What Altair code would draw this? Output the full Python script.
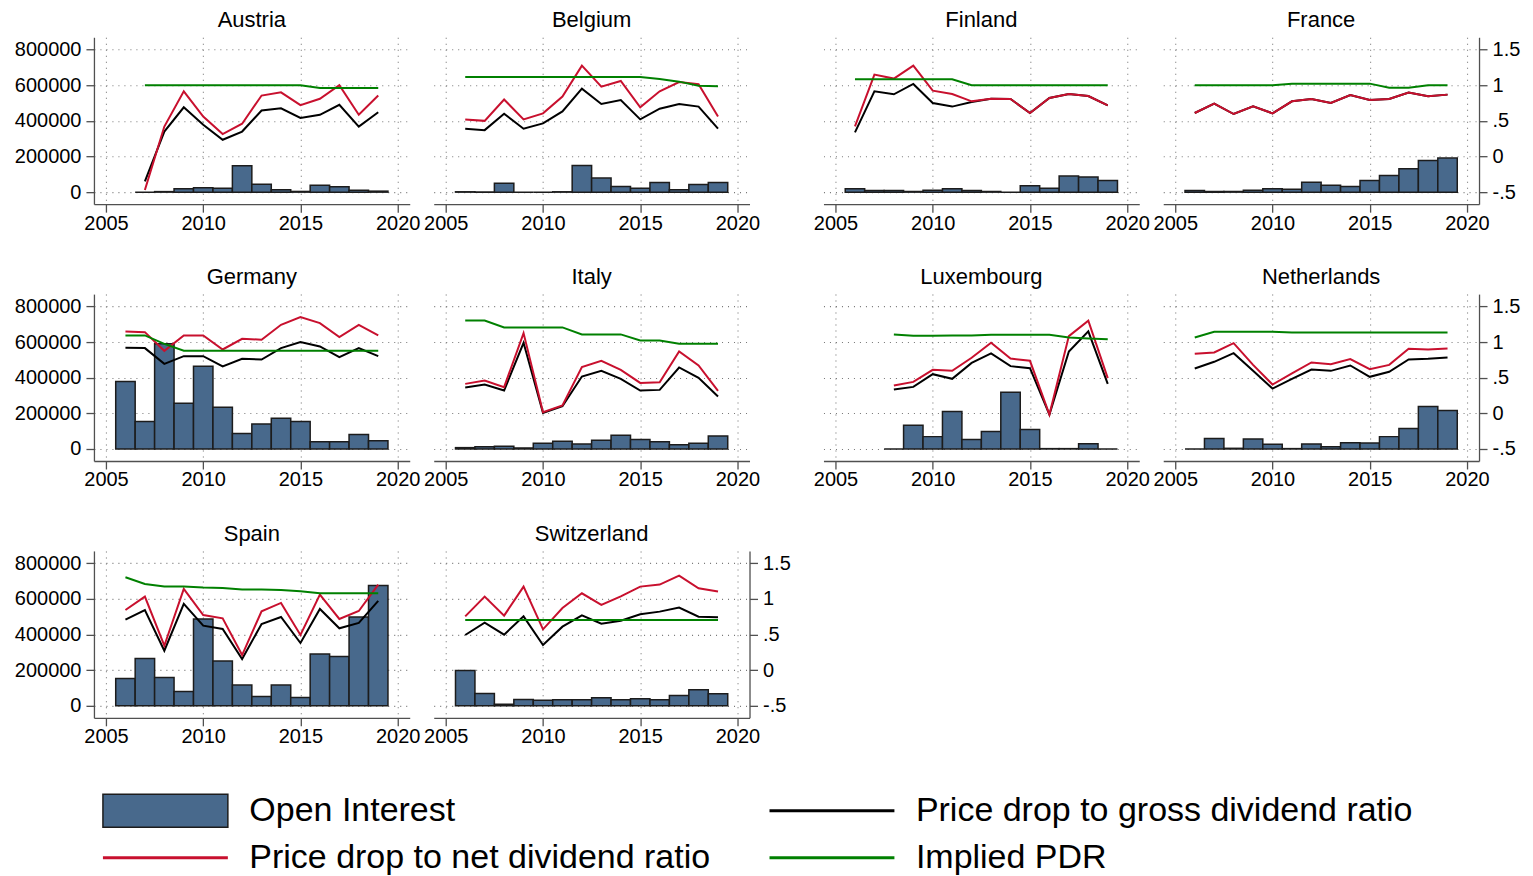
import altair as alt
import pandas as pd

FONT = "Liberation Sans"
BAR_FILL = "#48698c"
BAR_EDGE = "#1c1c1c"
RED = "#c8102e"
BLACK = "#000000"
GREEN = "#008000"
AXIS_C = "#505050"
GRID_C = "#777777"

X_TICKS = [2005, 2010, 2015, 2020]
OI_TICKS = [0, 200000, 400000, 600000, 800000]
PDR_TICKS = [-0.5, 0, 0.5, 1, 1.5]

# ---------------- data ----------------
YEARS_AUSTRIA = [2007, 2008, 2009, 2010, 2011, 2012, 2013, 2014, 2015, 2016, 2017, 2018, 2019]
OI_AUSTRIA = [0, 3000, 18700, 24000, 22000, 148000, 45000, 13000, 4000, 39000, 30000, 11000, 5600]
NET_AUSTRIA = [-0.47, 0.42, 0.915, 0.56, 0.315, 0.46, 0.855, 0.90, 0.72, 0.81, 1.0, 0.585, 0.855]
GROSS_AUSTRIA = [-0.35, 0.35, 0.69, 0.445, 0.235, 0.35, 0.645, 0.675, 0.54, 0.585, 0.725, 0.42, 0.62]
IMPLIED_AUSTRIA = [1.0, 1.0, 1.0, 1.0, 1.0, 1.0, 1.0, 1.0, 1.0, 0.962, 0.962, 0.962, 0.962]

YEARS_BELGIUM = [2006, 2007, 2008, 2009, 2010, 2011, 2012, 2013, 2014, 2015, 2016, 2017, 2018, 2019]
OI_BELGIUM = [2000, 1000, 50600, 0, 0, 2000, 150000, 78700, 31800, 22500, 54300, 13100, 43000, 54300]
NET_BELGIUM = [0.52, 0.50, 0.80, 0.52, 0.605, 0.84, 1.275, 0.98, 1.06, 0.69, 0.915, 1.045, 1.013, 0.56]
GROSS_BELGIUM = [0.39, 0.37, 0.60, 0.39, 0.465, 0.633, 0.952, 0.737, 0.793, 0.521, 0.671, 0.737, 0.70, 0.39]
IMPLIED_BELGIUM = [1.116, 1.116, 1.116, 1.116, 1.116, 1.116, 1.116, 1.116, 1.116, 1.116, 1.088, 1.05, 0.994, 0.985]

YEARS_FINLAND = [2006, 2007, 2008, 2009, 2010, 2011, 2012, 2013, 2014, 2015, 2016, 2017, 2018, 2019]
OI_FINLAND = [18700, 9400, 9400, 3700, 11200, 18700, 9400, 3700, 0, 35600, 22500, 90000, 84300, 65600]
NET_FINLAND = [0.423, 1.149, 1.093, 1.275, 0.924, 0.877, 0.774, 0.811, 0.807, 0.61, 0.821, 0.877, 0.849, 0.718]
GROSS_FINLAND = [0.338, 0.915, 0.872, 1.018, 0.751, 0.70, 0.765, 0.811, 0.807, 0.61, 0.821, 0.877, 0.849, 0.718]
IMPLIED_FINLAND = [1.083, 1.083, 1.083, 1.083, 1.083, 1.083, 1.0, 1.0, 1.0, 1.0, 1.0, 1.0, 1.0, 1.0]

YEARS_FRANCE = [2006, 2007, 2008, 2009, 2010, 2011, 2012, 2013, 2014, 2015, 2016, 2017, 2018, 2019]
OI_FRANCE = [9400, 3700, 3700, 11200, 18700, 16900, 56200, 39300, 31800, 65600, 93700, 131000, 178000, 191000]
NET_FRANCE = [0.61, 0.741, 0.596, 0.704, 0.605, 0.774, 0.807, 0.751, 0.863, 0.793, 0.807, 0.896, 0.844, 0.868]
GROSS_FRANCE = [0.61, 0.741, 0.596, 0.704, 0.605, 0.774, 0.807, 0.751, 0.863, 0.793, 0.807, 0.896, 0.844, 0.868]
IMPLIED_FRANCE = [1.0, 1.0, 1.0, 1.0, 1.0, 1.022, 1.022, 1.022, 1.022, 1.022, 0.966, 0.966, 1.0, 1.0]

YEARS_GERMANY = [2006, 2007, 2008, 2009, 2010, 2011, 2012, 2013, 2014, 2015, 2016, 2017, 2018, 2019]
OI_GERMANY = [378400, 153600, 590000, 256700, 464600, 234200, 86200, 140500, 172400, 153600, 41200, 41200, 80600, 46800]
NET_GERMANY = [1.149, 1.139, 0.877, 1.093, 1.093, 0.896, 1.046, 1.032, 1.242, 1.35, 1.266, 1.069, 1.242, 1.093]
GROSS_GERMANY = [0.919, 0.915, 0.694, 0.802, 0.802, 0.657, 0.765, 0.755, 0.915, 0.999, 0.938, 0.788, 0.915, 0.802]
IMPLIED_GERMANY = [1.093, 1.093, 0.975, 0.877, 0.877, 0.877, 0.877, 0.877, 0.877, 0.877, 0.877, 0.877, 0.877, 0.877]

YEARS_ITALY = [2006, 2007, 2008, 2009, 2010, 2011, 2012, 2013, 2014, 2015, 2016, 2017, 2018, 2019]
OI_ITALY = [7500, 13100, 15000, 5600, 31800, 43100, 28100, 48700, 76800, 52500, 41200, 24400, 31800, 73100]
NET_ITALY = [0.413, 0.46, 0.367, 1.125, 0.015, 0.109, 0.648, 0.737, 0.61, 0.427, 0.437, 0.868, 0.671, 0.315]
GROSS_ITALY = [0.362, 0.404, 0.32, 0.99, 0.006, 0.10, 0.516, 0.596, 0.484, 0.32, 0.329, 0.643, 0.498, 0.235]
IMPLIED_ITALY = [1.303, 1.303, 1.205, 1.205, 1.205, 1.205, 1.107, 1.107, 1.107, 1.022, 1.022, 0.975, 0.975, 0.975]

YEARS_LUXEMBOURG = [2008, 2009, 2010, 2011, 2012, 2013, 2014, 2015, 2016, 2017, 2018, 2019]
OI_LUXEMBOURG = [0, 133000, 69300, 209800, 52500, 97400, 318500, 108700, 1900, 1900, 30000, 0]
NET_LUXEMBOURG = [0.39, 0.441, 0.61, 0.596, 0.779, 0.99, 0.769, 0.737, -0.018, 1.083, 1.299, 0.493]
GROSS_LUXEMBOURG = [0.334, 0.371, 0.549, 0.484, 0.708, 0.84, 0.662, 0.633, -0.018, 0.868, 1.149, 0.413]
IMPLIED_LUXEMBOURG = [1.107, 1.088, 1.088, 1.093, 1.093, 1.102, 1.102, 1.102, 1.102, 1.064, 1.05, 1.04]

YEARS_NETHERLANDS = [2006, 2007, 2008, 2009, 2010, 2011, 2012, 2013, 2014, 2015, 2016, 2017, 2018, 2019]
OI_NETHERLANDS = [0, 58100, 3700, 56200, 26200, 2000, 28100, 13100, 35600, 33700, 69300, 114300, 237900, 215500]
NET_NETHERLANDS = [0.835, 0.854, 0.985, 0.68, 0.404, 0.559, 0.713, 0.69, 0.76, 0.619, 0.68, 0.905, 0.896, 0.91]
GROSS_NETHERLANDS = [0.629, 0.723, 0.844, 0.596, 0.348, 0.484, 0.615, 0.596, 0.671, 0.512, 0.582, 0.755, 0.765, 0.783]
IMPLIED_NETHERLANDS = [1.064, 1.144, 1.144, 1.144, 1.144, 1.135, 1.135, 1.135, 1.135, 1.135, 1.135, 1.135, 1.135, 1.135]

YEARS_SPAIN = [2006, 2007, 2008, 2009, 2010, 2011, 2012, 2013, 2014, 2015, 2016, 2017, 2018, 2019]
OI_SPAIN = [153600, 266000, 159200, 80600, 487100, 251000, 116200, 52500, 116200, 46800, 290400, 277300, 498400, 674500]
NET_SPAIN = [0.844, 1.032, 0.343, 1.139, 0.774, 0.727, 0.212, 0.826, 0.943, 0.493, 1.06, 0.718, 0.83, 1.2]
GROSS_SPAIN = [0.708, 0.844, 0.273, 0.929, 0.624, 0.577, 0.156, 0.648, 0.746, 0.381, 0.858, 0.587, 0.662, 0.971]
IMPLIED_SPAIN = [1.303, 1.21, 1.172, 1.172, 1.158, 1.153, 1.13, 1.13, 1.125, 1.107, 1.078, 1.078, 1.078, 1.078]

YEARS_SWITZERLAND = [2006, 2007, 2008, 2009, 2010, 2011, 2012, 2013, 2014, 2015, 2016, 2017, 2018, 2019]
OI_SWITZERLAND = [198600, 69300, 9400, 35600, 31800, 33700, 33700, 45000, 33700, 39300, 33700, 58100, 89900, 67400]
NET_SWITZERLAND = [0.755, 1.032, 0.765, 1.172, 0.573, 0.872, 1.078, 0.915, 1.036, 1.172, 1.2, 1.327, 1.149, 1.102]
GROSS_SWITZERLAND = [0.493, 0.666, 0.498, 0.755, 0.352, 0.61, 0.77, 0.652, 0.694, 0.783, 0.821, 0.877, 0.75, 0.741]
IMPLIED_SWITZERLAND = [0.705, 0.705, 0.705, 0.705, 0.705, 0.705, 0.705, 0.705, 0.705, 0.705, 0.705, 0.705, 0.705, 0.705]

LEGEND_LABELS = ["Open Interest", "Price drop to gross dividend ratio",
                 "Price drop to net dividend ratio", "Implied PDR"]
LEGEND_KEYS = ["oi", "gross", "net", "implied"]
LEGEND_COL = [0, 1, 0, 1]
LEGEND_ROW = [0, 0, 1, 1]

# ---------------- geometry / style ----------------
PW, PH = 316, 167
X_SCALE = alt.Scale(domain=[2004.38, 2020.62], nice=False, zero=False)
OI_SCALE = alt.Scale(domain=[-67400, 869000], nice=False, zero=False)
PDR_SCALE = alt.Scale(domain=[-0.6685, 1.6725], nice=False, zero=False)

X_AXIS = alt.Axis(values=X_TICKS, format="d", title=None, grid=True, tickSize=8,
                  labelPadding=1, labelFlush=False, labelOverlap=False)


def panel_layers(years, oi, net, gross, implied, left_axis, right_axis):
    df = pd.DataFrame({"year": years, "oi": oi, "net": net,
                       "gross": gross, "implied": implied})
    base = alt.Chart(df)
    if left_axis:
        oi_axis = alt.Axis(values=OI_TICKS, format="d", title=None, grid=True,
                           orient="left", tickSize=8, labelPadding=5)
    else:
        oi_axis = alt.Axis(values=OI_TICKS, title=None, grid=True, labels=False,
                           ticks=False, domain=False, orient="left")
    bars = base.transform_calculate(
        x0="datum.year - 0.5", x1="datum.year + 0.5"
    ).mark_rect(fill=BAR_FILL, stroke=BAR_EDGE, strokeWidth=1.5).encode(
        x=alt.X("x0:Q", scale=X_SCALE, axis=X_AXIS),
        x2="x1:Q",
        y=alt.Y("oi:Q", scale=OI_SCALE, axis=oi_axis),
        y2=alt.datum(0),
    )
    if right_axis:
        pdr_axis = alt.Axis(values=PDR_TICKS, title=None, grid=False, orient="right",
                            tickSize=8, labelPadding=5,
                            labelExpr="replace(toString(datum.value), '0.', '.')")
    else:
        pdr_axis = None

    def line(field, color):
        return base.mark_line(color=color, strokeWidth=2).encode(
            x=alt.X("year:Q", scale=X_SCALE, axis=X_AXIS),
            y=alt.Y(f"{field}:Q", scale=PDR_SCALE, axis=pdr_axis),
        )

    lines = alt.layer(line("gross", BLACK), line("net", RED), line("implied", GREEN))
    return alt.layer(bars, lines).resolve_scale(y="independent")


def legend_layers():
    df = pd.DataFrame({"label": LEGEND_LABELS, "key": LEGEND_KEYS,
                       "col": LEGEND_COL, "row": LEGEND_ROW})
    base = alt.Chart(df)
    lx = alt.X("col:Q", scale=alt.Scale(domain=[0, 1], range=[71.5, 738.5]), axis=None)
    ly = alt.Y("row:Q", scale=alt.Scale(domain=[0, 1], range=[260, 307]), axis=None)
    box = base.transform_filter("datum.key == 'oi'").mark_point(
        shape="M-1,-0.264H1V0.264H-1Z", size=125 ** 2, filled=True, fill=BAR_FILL,
        stroke=BAR_EDGE, strokeWidth=1.5, opacity=1
    ).encode(x=lx, y=ly)
    strokes = base.transform_filter("datum.key != 'oi'").mark_point(
        shape="M-1,0H1", size=125 ** 2, filled=False, strokeWidth=3, opacity=1
    ).encode(x=lx, y=ly,
             color=alt.Color("key:N", legend=None,
                             scale=alt.Scale(domain=["gross", "net", "implied"],
                                             range=[BLACK, RED, GREEN])))
    text = base.mark_text(align="left", baseline="middle", dx=84, fontSize=34,
                          font=FONT, color="black").encode(x=lx, y=ly, text="label:N")
    return alt.layer(box, strokes, text)


def title(name):
    return alt.TitleParams(text=name, fontSize=22, font=FONT, fontWeight="normal",
                           color="black", offset=5, anchor="middle")


def panel(name, years, oi, net, gross, implied, left_axis=False, right_axis=False,
          with_legend=False):
    core = panel_layers(years, oi, net, gross, implied, left_axis, right_axis)
    if with_legend:
        core = alt.layer(core, legend_layers()).resolve_scale(x="independent",
                                                              y="independent")
    return core.properties(width=PW, height=PH, title=title(name))


def spacer():
    return alt.Chart(pd.DataFrame({"s": [0]})).mark_point(opacity=0).encode(
        x=alt.value(0), y=alt.value(0)).properties(width=26, height=PH)


row1 = alt.hconcat(
    panel("Austria", YEARS_AUSTRIA, OI_AUSTRIA, NET_AUSTRIA, GROSS_AUSTRIA, IMPLIED_AUSTRIA, left_axis=True),
    panel("Belgium", YEARS_BELGIUM, OI_BELGIUM, NET_BELGIUM, GROSS_BELGIUM, IMPLIED_BELGIUM),
    spacer(),
    panel("Finland", YEARS_FINLAND, OI_FINLAND, NET_FINLAND, GROSS_FINLAND, IMPLIED_FINLAND),
    panel("France", YEARS_FRANCE, OI_FRANCE, NET_FRANCE, GROSS_FRANCE, IMPLIED_FRANCE, right_axis=True),
    spacing=24, bounds="flush",
)
row2 = alt.hconcat(
    panel("Germany", YEARS_GERMANY, OI_GERMANY, NET_GERMANY, GROSS_GERMANY, IMPLIED_GERMANY, left_axis=True),
    panel("Italy", YEARS_ITALY, OI_ITALY, NET_ITALY, GROSS_ITALY, IMPLIED_ITALY),
    spacer(),
    panel("Luxembourg", YEARS_LUXEMBOURG, OI_LUXEMBOURG, NET_LUXEMBOURG, GROSS_LUXEMBOURG, IMPLIED_LUXEMBOURG),
    panel("Netherlands", YEARS_NETHERLANDS, OI_NETHERLANDS, NET_NETHERLANDS, GROSS_NETHERLANDS, IMPLIED_NETHERLANDS, right_axis=True),
    spacing=24, bounds="flush",
)
row3 = alt.hconcat(
    panel("Spain", YEARS_SPAIN, OI_SPAIN, NET_SPAIN, GROSS_SPAIN, IMPLIED_SPAIN, left_axis=True, with_legend=True),
    panel("Switzerland", YEARS_SWITZERLAND, OI_SWITZERLAND, NET_SWITZERLAND, GROSS_SWITZERLAND, IMPLIED_SWITZERLAND, right_axis=True),
    spacing=24, bounds="flush",
)

chart = alt.vconcat(row1, row2, row3, spacing=33).properties(
    padding={"left": 6, "top": 1, "right": 5, "bottom": 5},
    background="white",
).configure_view(stroke=None).configure_axis(
    domainColor=AXIS_C, tickColor=AXIS_C, domainWidth=1.3, tickWidth=1.3,
    labelFont=FONT, labelFontSize=20, labelColor="black",
    gridColor=GRID_C, gridDash=[1, 5], gridWidth=1.1,
)

chart.save("out.html", embed_options={"renderer": "svg", "actions": False})
